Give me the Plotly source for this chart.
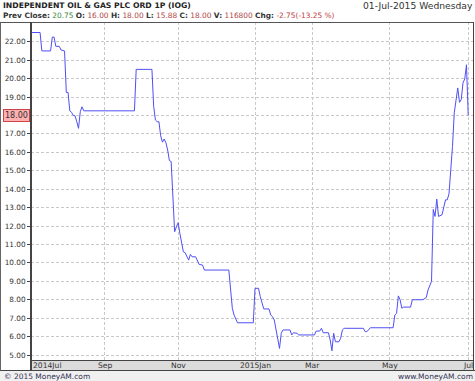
import plotly.graph_objects as go

# ---- data (trading-session index from 1-Jul-2014, closing price in pence) ----
sessions = [0, 5, 6, 11, 12, 13, 14, 16, 17, 19, 20, 21, 22, 23, 24, 25, 26, 27, 28, 29, 30, 59, 60, 69,
            70, 71, 72, 73, 74, 75, 76, 77, 78, 79, 80, 82, 83, 84, 85, 86, 87, 88, 90, 91, 92, 94, 95, 96, 98, 99, 113,
            114, 115, 116, 118, 127, 128, 130, 131, 133, 136, 137, 138, 139, 140, 142, 143, 144, 148, 149, 150, 152, 153,
            162, 163, 165, 166, 167, 170, 171, 172, 173, 174, 176, 177, 178, 179, 190, 191, 192, 194, 207,
            208, 209, 210, 211, 212, 213, 217, 218, 224, 226, 227, 229, 230, 231, 232, 233, 235, 237, 238, 239, 240,
            241, 242, 244, 245, 246, 247, 248, 249, 250]
prices = [22.50, 22.50, 21.50, 21.50, 22.25, 22.25, 21.75, 21.75, 21.55, 21.50, 19.25, 19.25, 18.25, 18.17, 18.00,
          17.98, 17.66, 17.30, 18.20, 18.47, 18.25, 18.25, 20.50, 20.50,
          18.50, 17.75, 17.66, 17.66, 16.90, 16.55, 16.72, 16.52, 16.12, 15.55, 15.50, 11.69, 11.96, 12.18, 11.60,
          10.97, 10.60, 10.55, 10.15, 10.46, 10.33, 10.33, 10.15, 9.92, 9.88, 9.61, 9.61,
          8.53, 7.54, 7.17, 6.75, 6.75, 8.62, 8.62, 8.17, 7.50, 7.50, 7.17, 7.08, 6.90, 6.36, 5.36, 6.18, 6.36, 6.36,
          6.09, 6.21, 6.18, 6.09, 6.09, 6.30, 6.30, 6.45, 6.21, 6.21, 5.82, 5.23, 6.18, 5.72, 5.72, 5.91, 6.36, 6.45,
          6.45, 6.27, 6.27, 6.48, 6.48,
          7.17, 7.26, 8.21, 8.00, 7.54, 7.60, 7.60, 8.00, 8.00, 8.12, 8.53, 9.00, 12.90, 12.52, 13.46, 12.52, 12.61,
          13.42, 13.42, 13.75, 15.05, 16.32, 18.14, 19.49, 18.71, 18.86, 19.77, 19.98, 20.75, 18.00]

month_ticks = [0, 42, 84, 128, 161, 205, 250]
month_labels = ["2014Jul", "Sep", "Nov", "2015Jan", "Mar", "May", "Jul"]
price_ticks = list(range(5, 23))

title_text = "INDEPENDENT OIL & GAS PLC ORD 1P (IOG)"
date_text = "01-Jul-2015 Wednesday"
last_price = 18.00
stats = [("Prev Close:", "20.75", "#3d8b3d"), ("O:", "16.00", "#b04848"), ("H:", "18.00", "#b04848"),
         ("L:", "15.88", "#b04848"), ("C:", "18.00", "#b04848"), ("V:", "116800", "#b04848"),
         ("Chg:", "-2.75(-13.25 %)", "#c04040")]

W, H = 475, 381
L, R, T, B = 31, 1, 22, 21
PW, PH = W - L - R, H - T - B


def px(xp):
    return (xp - L) / PW


def py(yp):
    return (H - B - yp) / PH


FONT = "DejaVu Sans"
fig = go.Figure()
fig.add_trace(go.Scatter(x=sessions, y=prices, mode="lines",
                         line=dict(color="#4f4ff5", width=1), hoverinfo="skip"))

shapes = [
    dict(type="rect", xref="paper", yref="paper", x0=px(0), x1=px(475), y0=py(370.5), y1=py(381),
         fillcolor="#f0f0f0", line=dict(width=0), layer="below"),
    dict(type="rect", xref="paper", yref="paper", x0=0, x1=1, y0=py(370), y1=py(360),
         fillcolor="#dcdcdc", line=dict(width=0), layer="below"),
    dict(type="line", xref="paper", yref="paper", x0=px(0), x1=px(475), y0=py(370.5), y1=py(370.5),
         line=dict(color="#444444", width=1)),
    dict(type="line", xref="paper", yref="paper", x0=px(0.5), x1=px(0.5), y0=py(22), y1=py(370.5),
         line=dict(color="#666666", width=1)),
    dict(type="line", xref="paper", yref="paper", x0=px(0), x1=px(474), y0=py(22.5), y1=py(22.5),
         line=dict(color="#555555", width=1)),
    dict(type="line", xref="paper", yref="paper", x0=px(31), x1=px(31), y0=py(22), y1=py(370),
         line=dict(color="#444444", width=2)),
    dict(type="line", xref="paper", yref="paper", x0=0, x1=1, y0=py(360.5), y1=py(360.5),
         line=dict(color="#444444", width=1)),
    dict(type="line", xref="paper", yref="paper", x0=px(473.5), x1=px(473.5), y0=py(22), y1=py(370.5),
         line=dict(color="#444444", width=1)),
]

annotations = []
for i, (t, lab) in enumerate(zip(month_ticks, month_labels)):
    annotations.append(dict(x=t, xref="x", y=py(365.5), yref="paper", text=lab, showarrow=False,
                            xanchor="left" if i == 0 else "center", yanchor="middle",
                            font=dict(family=FONT, size=7.6, color="#333333")))

annotations.append(dict(x=px(1), xref="paper", y=py(6), yref="paper",
                        text="<b>" + title_text.replace("&", "&amp;") + "</b>",
                        showarrow=False, xanchor="left", yanchor="middle",
                        font=dict(family=FONT, size=7.7, color="#222222")))
annotations.append(dict(x=px(475), xref="paper", y=py(6), yref="paper", text=date_text,
                        showarrow=False, xanchor="right", yanchor="middle",
                        font=dict(family=FONT, size=9.2, color="#333333")))
parts = []
for lab, val, col in stats:
    parts.append("<b>%s</b> <span style='color:%s'>%s</span>" % (lab, col, val))
annotations.append(dict(x=px(1), xref="paper", y=py(16), yref="paper", text=" ".join(parts),
                        showarrow=False, xanchor="left", yanchor="middle",
                        font=dict(family=FONT, size=7.4, color="#333333")))
annotations.append(dict(x=px(2), xref="paper", y=py(376), yref="paper", text="© 2015 MoneyAM.com",
                        showarrow=False, xanchor="left", yanchor="middle",
                        font=dict(family=FONT, size=7.5, color="#333355")))
annotations.append(dict(x=px(475), xref="paper", y=py(376), yref="paper", text="www.MoneyAM.com",
                        showarrow=False, xanchor="right", yanchor="middle",
                        font=dict(family=FONT, size=7.5, color="#333355")))
annotations.append(dict(x=px(30), xref="paper", y=last_price, yref="y", text="%.2f" % last_price,
                        showarrow=False, xanchor="right", yanchor="middle",
                        bgcolor="#ffb0b0", bordercolor="#cc4444", borderwidth=1, borderpad=1,
                        font=dict(family=FONT, size=8, color="#333333")))

fig.update_layout(
    width=W, height=H, margin=dict(l=L, r=R, t=T, b=B, pad=0),
    paper_bgcolor="white", plot_bgcolor="white", showlegend=False,
    shapes=shapes, annotations=annotations,
    xaxis=dict(range=[-0.2, 253.3], tickvals=month_ticks, showticklabels=False, ticks="",
               showgrid=True, gridcolor="#c8c8c8", griddash="3px,2px", gridwidth=1,
               zeroline=False, showline=False, fixedrange=True),
    yaxis=dict(range=[4.73, 23.07], tickvals=price_ticks, tickformat=".2f",
               ticks="outside", ticklen=3, tickcolor="#444444",
               tickfont=dict(family=FONT, size=7.3, color="#333333"),
               showgrid=True, gridcolor="#c8c8c8", griddash="3px,2px", gridwidth=1,
               zeroline=False, showline=False, fixedrange=True),
)

fig.write_html("out.html")
